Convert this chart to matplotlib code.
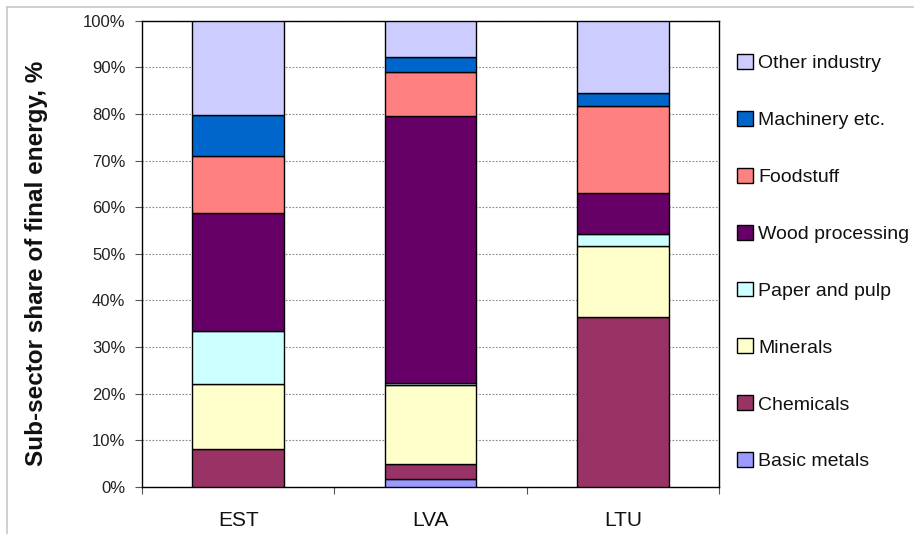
import matplotlib
matplotlib.use("Agg")
import matplotlib.pyplot as plt
from matplotlib.lines import Line2D
from matplotlib.ticker import FixedLocator, PercentFormatter
import numpy as np

plt.rcParams['font.family'] = ['Liberation Sans', 'DejaVu Sans']

countries = ["EST", "LVA", "LTU"]
sectors = ["Basic metals", "Chemicals", "Minerals", "Paper and pulp",
           "Wood processing", "Foodstuff", "Machinery etc.", "Other industry"]
basic_metals = [0.0, 1.7, 0.0]
chemicals = [8.2, 3.2, 36.5]
minerals = [13.9, 17.0, 15.1]
paper_pulp = [11.4, 0.5, 2.6]
wood_processing = [25.2, 57.1, 8.8]
foodstuff = [12.2, 9.6, 18.8]
machinery = [8.8, 3.1, 2.7]
other_industry = [20.3, 7.8, 15.5]
series = [basic_metals, chemicals, minerals, paper_pulp, wood_processing,
          foodstuff, machinery, other_industry]
colors = ["#9999FF", "#993366", "#FFFFCC", "#CCFFFF", "#660066",
          "#FF8080", "#0066CC", "#CCCCFF"]

fig = plt.figure(figsize=(9.14, 5.34), dpi=100)
ax = fig.add_axes([142/914, 1-487/534, (719-142)/914, (487-20.7)/534])

x = np.arange(len(countries))
bottom = np.zeros(len(countries))
handles = []
for vals, col, name in zip(series, colors, sectors):
    v = np.array(vals)
    b = ax.bar(x, v, width=0.475, bottom=bottom, color=col,
               edgecolor="black", linewidth=1.0, label=name, zorder=3)
    handles.append(b)
    bottom += v

ax.set_xlim(-0.5, 2.5)
ax.set_ylim(0, 100)
ax.set_yticks(np.arange(0, 101, 10))
ax.yaxis.set_major_formatter(PercentFormatter(decimals=0))
ax.set_xticks(x)
ax.set_xticklabels(countries, fontsize=15, color="#111111")
ax.xaxis.set_minor_locator(FixedLocator([-0.5, 0.5, 1.5, 2.5]))
ax.tick_params(axis='x', which='major', length=0, pad=17)
ax.tick_params(axis='x', which='minor', length=5, width=0.8, color="#555555")
ax.tick_params(axis='y', which='major', length=5, width=0.8, color="#555555",
               labelsize=12, labelcolor="#222222", pad=7)
ax.yaxis.grid(True, linestyle=(0, (1.5, 1.5)), color="#888888", linewidth=0.8, zorder=0)
for s in ax.spines.values():
    s.set_color("black")
    s.set_linewidth(1.0)

ax.set_ylabel("Sub-sector share of final energy, %", fontsize=17.5,
              fontweight="bold", color="#111111")
ax.yaxis.set_label_coords((48-142)/577, (487-263.5)/466.6)

leg = fig.legend(handles[::-1], sectors[::-1], loc="upper left",
                 bbox_to_anchor=(737/914, 1-54/534), frameon=False,
                 fontsize=14, handlelength=0.8, handleheight=0.8,
                 handletextpad=0.3, labelspacing=1.99, borderaxespad=0,
                 borderpad=0)
for t in leg.get_texts():
    t.set_color("#111111")

fig.add_artist(Line2D([7/914, 1], [1-7/534, 1-7/534], color="#c8c8c8",
                      linewidth=1.2, transform=fig.transFigure))
fig.add_artist(Line2D([7/914, 7/914], [0, 1-7/534], color="#c8c8c8",
                      linewidth=1.2, transform=fig.transFigure))

fig.savefig("out.png", dpi=100)
